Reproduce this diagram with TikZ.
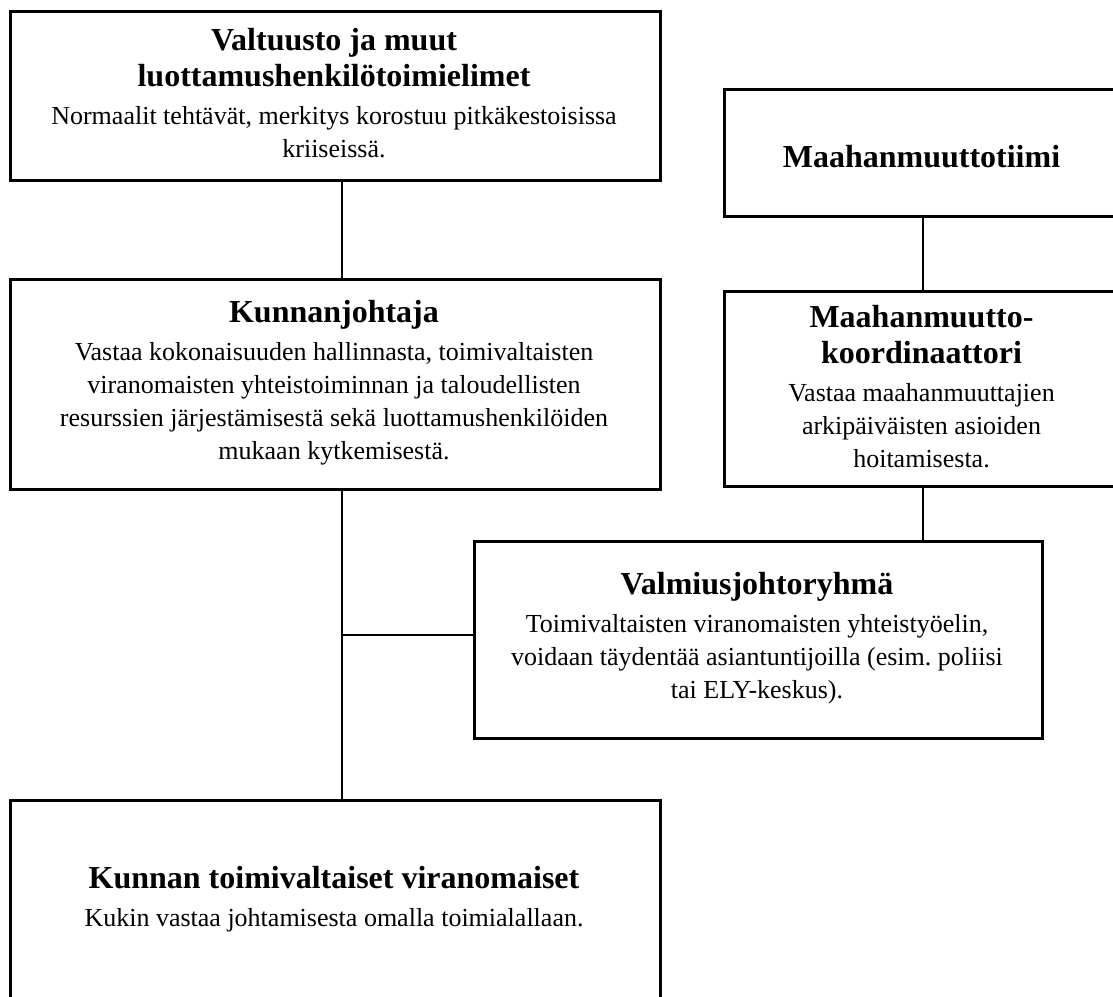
\documentclass[tikz,border=0pt]{standalone}
\usepackage{fontspec}
\setmainfont{Liberation Serif}
\begin{document}
\frenchspacing
\begin{tikzpicture}[x=1pt,y=-1pt,
  unit/.style={draw, line width=2.6pt, inner sep=0pt, anchor=north west},
  heading/.style={font=\fontsize{32}{36}\selectfont\bfseries, align=center, inner sep=0pt, anchor=north},
  detail/.style={font=\fontsize{26}{33}\selectfont, align=center, inner sep=0pt, anchor=north},
  link/.style={line width=2pt}]
\useasboundingbox (0,0) rectangle (1113,996);
\fill[white] (0,0) rectangle (1113,996);
\clip (0,0) rectangle (1113,996);

% organisation boxes
\node[unit, minimum width=650pt, minimum height=169pt] (valtuusto) at (9,10) {};
\node[unit, minimum width=397pt, minimum height=127pt] (tiimi) at (723,88) {};
\node[unit, minimum width=650pt, minimum height=210pt] (johtaja) at (9,278) {};
\node[unit, minimum width=397pt, minimum height=195pt] (koord) at (723,290) {};
\node[unit, minimum width=568pt, minimum height=197pt] (valmius) at (473,540) {};
\node[unit, minimum width=650pt, minimum height=201pt] (viranom) at (9,799) {};

% headings and descriptions
\node[heading] (valtuustoT) at (334,28) {Valtuusto ja muut\\luottamushenkilötoimielimet};
\node[detail] (valtuustoD) at (334,106) {Normaalit tehtävät, merkitys korostuu pitkäkestoisissa\\kriiseissä.};

\node[heading] (tiimiT) at (921.5,145) {Maahanmuuttotiimi};

\node[heading] (johtajaT) at (334,300.5) {Kunnanjohtaja};
\node[detail] (johtajaD) at (334,342.5) {Vastaa kokonaisuuden hallinnasta, toimivaltaisten\\viranomaisten yhteistoiminnan ja taloudellisten\\resurssien järjestämisestä sekä luottamushenkilöiden\\mukaan kytkemisestä.};

\node[heading] (koordT) at (921.5,305) {Maahanmuutto-\\koordinaattori};
\node[detail] (koordD) at (921.5,383) {Vastaa maahanmuuttajien\\arkipäiväisten asioiden\\hoitamisesta.};

\node[heading] (valmiusT) at (757,572.5) {Valmiusjohtoryhmä};
\node[detail] (valmiusD) at (757,614.5) {Toimivaltaisten viranomaisten yhteistyöelin,\\voidaan täydentää asiantuntijoilla (esim. poliisi\\tai ELY-keskus).};

\node[heading] (viranomT) at (334,866) {Kunnan toimivaltaiset viranomaiset};
\node[detail] (viranomD) at (334,908) {Kukin vastaa johtamisesta omalla toimialallaan.};

% connectors
\coordinate (leftspine) at (342,0);
\coordinate (rightspine) at (923,0);
\coordinate (fork) at (342,635);
\draw[link] (valtuusto.south -| leftspine) -- (johtaja.north -| leftspine);
\draw[link] (johtaja.south -| leftspine) -- (viranom.north -| leftspine);
\draw[link] (fork) -- (fork -| valmius.west);
\draw[link] (tiimi.south -| rightspine) -- (koord.north -| rightspine);
\draw[link] (koord.south -| rightspine) -- (valmius.north -| rightspine);
\end{tikzpicture}
\end{document}
